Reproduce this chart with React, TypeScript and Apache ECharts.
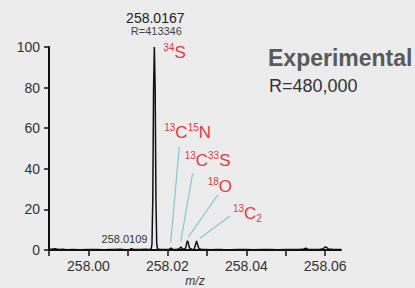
import React, { useEffect, useRef } from "react";
import * as echarts from "echarts";

// Profile spectrum (m/z, relative intensity %)
const mzValues = [
  257.99, 257.9915, 257.9925, 257.9935, 257.9945, 257.996, 257.998, 258.0, 258.002, 258.004,
  258.0055, 258.0065, 258.008, 258.0095, 258.0104, 258.0109, 258.0114, 258.013, 258.0145,
  258.0155, 258.0159, 258.0161, 258.0163, 258.0165, 258.0167, 258.0169, 258.0171, 258.0173,
  258.0175, 258.0182, 258.0192, 258.02, 258.0205, 258.0209, 258.0213, 258.0218, 258.0224,
  258.023, 258.0234, 258.0238, 258.0244, 258.0247, 258.0249, 258.0251, 258.0253, 258.0256,
  258.0262, 258.0268, 258.0271, 258.0274, 258.0277, 258.028, 258.0287, 258.0298, 258.031,
  258.0325, 258.034, 258.036, 258.038, 258.04, 258.042, 258.044, 258.046, 258.048, 258.05,
  258.052, 258.0535, 258.0546, 258.0551, 258.0556, 258.057, 258.0585, 258.0595, 258.0598,
  258.0601, 258.0604, 258.0608, 258.062, 258.064,
];
const intensityValues = [
  0.2, 0.6, 0.2, 0.4, 0.1, 0.3, 0.1, 0.3, 0.2, 0.1,
  0.3, 0.2, 0.4, 0.1, 0.3, 0.6, 0.3, 0.2, 0.4,
  0.3, 0.5, 3, 25, 80, 100, 80, 25, 3,
  0.5, 0.2, 0.3, 0.2, 0.4, 1.0, 0.4, 0.2, 0.3,
  0.6, 1.5, 0.6, 0.3, 1.5, 3.5, 4.6, 3.5, 1.0,
  0.3, 0.4, 2.5, 4.5, 2.5, 0.6, 0.2, 0.3, 0.1,
  0.3, 0.2, 0.1, 0.3, 0.2, 0.1, 0.3, 0.2, 0.1, 0.3,
  0.2, 0.3, 0.5, 0.9, 0.4, 0.2, 0.3, 0.6, 1.2,
  1.6, 1.2, 0.5, 0.2, 0.3,
];

const yTicks = [0, 20, 40, 60, 80, 100];

// Main peak annotation
const mainPeak = { mz: 258.0167, intensity: 100, label: "258.0167", resolution: "R=413346" };
const minorPeak = { mz: 258.0109, intensity: 0, label: "258.0109" };

// Isotope labels with leader lines from the peak to the label
const isotopeNames = ["13C15N", "13C33S", "18O", "13C2"];
const isotopeRich = [
  "{sup|13}{m|C}{sup|15}{m|N}",
  "{sup|13}{m|C}{sup|33}{m|S}",
  "{sup|18}{m|O}",
  "{sup|13}{m|C}{sub|2}",
];
const leaderFromMz = [258.02084, 258.02338, 258.0253, 258.02827];
const leaderFromY = [3.6, 4.1, 6.3, 5.8];
const leaderToMz = [258.02302, 258.02642, 258.03275, 258.03587];
const leaderToY = [50.9, 37.8, 27.1, 16.7];
const labelOffsets = [
  [-15, -14],
  [-8, -13],
  [-10, -8],
  [3, -3],
];

const RED = "#e6393f";
const LEADER = "#88c6d3";
const FONT = "Liberation Sans, Arial, Helvetica, sans-serif";

export default function App() {
  const ref = useRef<HTMLDivElement>(null);
  useEffect(() => {
    if (!ref.current) return;
    const chart = echarts.init(ref.current, null, { renderer: "svg" });
    const richStyles = {
      sup: { fontSize: 10, color: RED, verticalAlign: "top", lineHeight: 20, fontFamily: FONT },
      sub: { fontSize: 10, color: RED, verticalAlign: "bottom", lineHeight: 20, padding: [10, 0, 0, 0], fontFamily: FONT },
      m: { fontSize: 17, color: RED, lineHeight: 20, fontFamily: FONT },
    };
    const spectrum = mzValues.map((m, i) => [m, intensityValues[i]]);
    chart.setOption({
      animation: false,
      backgroundColor: "#ececec",
      textStyle: { fontFamily: FONT },
      grid: { left: 49, right: 74, top: 47, bottom: 38, containLabel: false, outerBoundsMode: "none" },
      xAxis: {
        type: "value",
        min: 257.99,
        max: 258.064,
        interval: 0.01,
        name: "m/z",
        nameLocation: "middle",
        nameGap: 25,
        nameMoveOverlap: false,
        nameTextStyle: { fontStyle: "italic", fontSize: 12, color: "#333", fontFamily: FONT, lineHeight: 12 },
        axisLine: { show: true, onZero: false, lineStyle: { color: "#111", width: 2 } },
        axisTick: { show: true, length: 6, lineStyle: { color: "#111", width: 1.5 } },
        splitLine: { show: false },
        axisLabel: {
          fontSize: 14,
          color: "#333",
          margin: 9,
          showMaxLabel: false,
          formatter: (v: number) => (Math.round(v * 100) % 2 === 0 ? v.toFixed(2) : ""),
        },
      },
      yAxis: {
        type: "value",
        min: 0,
        max: 100,
        interval: 20,
        axisLine: { show: true, lineStyle: { color: "#111", width: 2 } },
        axisTick: { show: true, length: 5, lineStyle: { color: "#111", width: 1.5 } },
        splitLine: { show: false },
        axisLabel: {
          fontSize: 14,
          color: "#333",
          margin: 9,
          formatter: (v: number) => (yTicks.includes(v) ? String(v) : ""),
        },
      },
      graphic: [
        {
          type: "text",
          left: 268,
          top: 46,
          style: { text: "Experimental", fontSize: 23, fontWeight: "bold", fill: "#5a5a5a", fontFamily: FONT },
        },
        {
          type: "text",
          left: 269,
          top: 77,
          style: { text: "R=480,000", fontSize: 18, fill: "#333", fontFamily: FONT },
        },
      ],
      series: [
        {
          type: "line",
          data: spectrum,
          showSymbol: false,
          symbol: "none",
          lineStyle: { color: "#111", width: 1.5 },
          silent: true,
          markLine: {
            silent: true,
            symbol: ["none", "none"],
            label: { show: false },
            lineStyle: { color: LEADER, width: 1.2, type: "solid" },
            data: leaderFromMz.map((m, i) => [
              { coord: [m, leaderFromY[i]] },
              { coord: [leaderToMz[i], leaderToY[i]] },
            ]),
          },
          markPoint: {
            silent: true,
            symbol: "circle",
            symbolSize: 0.1,
            itemStyle: { color: "transparent" },
            data: [
              {
                name: "main",
                coord: [mainPeak.mz, mainPeak.intensity],
                label: {
                  show: true,
                  position: [1, -29],
                  align: "center",
                  verticalAlign: "middle",
                  formatter: mainPeak.label,
                  fontSize: 14,
                  color: "#222",
                  fontFamily: FONT,
                },
              },
              {
                name: "res",
                coord: [mainPeak.mz, mainPeak.intensity],
                label: {
                  show: true,
                  position: [2, -16],
                  align: "center",
                  verticalAlign: "middle",
                  formatter: mainPeak.resolution,
                  fontSize: 11,
                  color: "#444",
                  fontFamily: FONT,
                },
              },
              {
                name: "34S",
                coord: [mainPeak.mz, mainPeak.intensity],
                label: {
                  show: true,
                  position: [9, 6],
                  align: "left",
                  verticalAlign: "middle",
                  formatter: "{sup|34}{m|S}",
                  rich: richStyles,
                },
              },
              {
                name: "minor",
                coord: [minorPeak.mz, minorPeak.intensity],
                label: {
                  show: true,
                  position: [16, -11],
                  align: "right",
                  verticalAlign: "middle",
                  formatter: minorPeak.label,
                  fontSize: 11,
                  color: "#333",
                  fontFamily: FONT,
                },
              },
              ...isotopeNames.map((n, i) => ({
                name: n,
                coord: [leaderToMz[i], leaderToY[i]],
                label: {
                  show: true,
                  position: labelOffsets[i],
                  align: "left",
                  verticalAlign: "middle",
                  formatter: isotopeRich[i],
                  rich: richStyles,
                },
              })),
            ],
          },
        },
      ],
    });
    return () => chart.dispose();
  }, []);
  return <div ref={ref} style={{ position: "fixed", left: 0, top: 0, width: 415, height: 288 }} />;
}
